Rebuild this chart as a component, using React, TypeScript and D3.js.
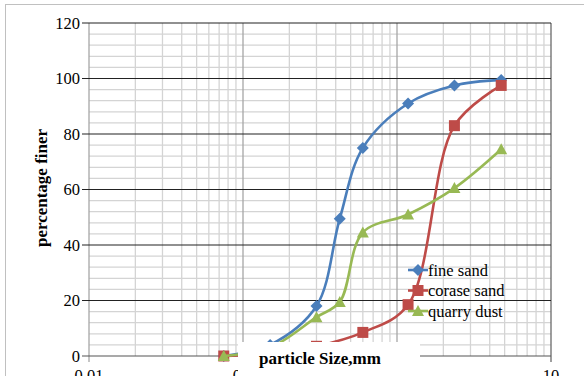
import * as d3 from "d3";
import { useRef, useEffect } from "react";

// sieve sizes (mm) and percentage finer for each material
const sieveSizes = [0.075, 0.15, 0.3, 0.425, 0.6, 1.18, 2.36, 4.75];
const fineSand = [0, 4, 18, 49.5, 75, 91, 97.5, 99.5];
const coarseSand = [0, 1, 3.5, null, 8.5, 18.5, 83, 97.5];
const quarryDust = [0, 3, 14, 19.5, 44.5, 51, 60.5, 74.5];

const seriesNames = ["fine sand", "corase sand", "quarry dust"];
const seriesColors = ["#4a7ebb", "#be4b48", "#98b954"];
const seriesShapes = ["diamond", "square", "triangle"];

const yTicks = [0, 20, 40, 60, 80, 100, 120];
const xTicks = [0.01, 0.1, 1, 10];
const xTickLabels = ["0.01", "0.1", "1", "10"];

function markerPath(shape: string) {
  if (shape === "diamond") return "M0,-6L6,0L0,6L-6,0Z";
  if (shape === "square") return "M-5.5,-5.5H5.5V5.5H-5.5Z";
  return "M0,-6L6,5H-6Z";
}

export default function App() {
  const ref = useRef<SVGSVGElement>(null);

  useEffect(() => {
    const width = 584;
    const height = 376;
    const svg = d3.select(ref.current);
    svg.selectAll("*").remove();
    svg.attr("width", width).attr("height", height);

    const x = d3.scaleLog().domain([0.01, 10]).range([89, 551]);
    const y = d3.scaleLinear().domain([0, 120]).range([356, 23]);
    const font = "Liberation Serif";

    svg.append("rect").attr("width", width).attr("height", height).attr("fill", "#fff");
    svg.append("rect")
      .attr("x", 5.5).attr("y", 4.5).attr("width", 700).attr("height", 500)
      .attr("fill", "none").attr("stroke", "#c0c0c0");

    const grid = svg.append("g");
    // minor vertical lines
    for (let dec = 0.01; dec < 10; dec *= 10) {
      for (let k = 2; k <= 9; k++) {
        const xv = x(dec * k);
        grid.append("line")
          .attr("x1", xv).attr("x2", xv).attr("y1", y(120)).attr("y2", y(0))
          .attr("stroke", "#d4d4d4").attr("stroke-width", 1.3);
      }
    }
    // minor horizontal lines
    d3.range(0, 121, 4).filter(v => v % 20 !== 0).forEach(v => {
      grid.append("line")
        .attr("x1", x(0.01)).attr("x2", x(10)).attr("y1", y(v)).attr("y2", y(v))
        .attr("stroke", "#d4d4d4").attr("stroke-width", 1.3);
    });
    // major vertical lines
    xTicks.forEach(t => {
      grid.append("line")
        .attr("x1", x(t)).attr("x2", x(t)).attr("y1", y(120)).attr("y2", y(0) + (t === 10 || t === 0.01 ? 6 : 0))
        .attr("stroke", t === 10 ? "#6a6a6a" : "#a6a6a6").attr("stroke-width", 1.3);
    });
    // major horizontal lines
    yTicks.forEach(t => {
      grid.append("line")
        .attr("x1", x(0.01) - 7).attr("x2", x(10)).attr("y1", y(t)).attr("y2", y(t))
        .attr("stroke", t === 0 ? "#555" : "#222").attr("stroke-width", 1.2);
    });

    svg.append("g").selectAll("text")
      .data(yTicks).enter().append("text")
      .attr("x", 80).attr("y", d => y(d)).attr("dy", "0.35em")
      .attr("text-anchor", "end").attr("font-family", font).attr("font-size", 16.5)
      .text(d => d);

    svg.append("g").selectAll("text")
      .data(xTicks).enter().append("text")
      .attr("x", d => x(d)).attr("y", 381)
      .attr("text-anchor", "middle").attr("font-family", font).attr("font-size", 16.5)
      .text((d, i) => xTickLabels[i]);

    const allSeries = [fineSand, coarseSand, quarryDust];
    const line = d3.line<[number, number]>()
      .x(d => x(d[0])).y(d => y(d[1]))
      .curve(d3.curveCatmullRom.alpha(0.5));

    allSeries.forEach((vals, i) => {
      const pts = sieveSizes
        .map((s, j) => [s, vals[j]] as [number, number | null])
        .filter(p => p[1] !== null) as [number, number][];
      svg.append("path")
        .attr("d", line(pts))
        .attr("fill", "none").attr("stroke", seriesColors[i]).attr("stroke-width", 2.6);
      svg.append("g").selectAll("path")
        .data(pts).enter().append("path")
        .attr("d", markerPath(seriesShapes[i]))
        .attr("transform", d => `translate(${x(d[0])},${y(d[1])})`)
        .attr("fill", seriesColors[i]);
    });

    // legend
    const legend = svg.append("g");
    seriesNames.forEach((name, i) => {
      const ly = 270 + i * 20.5;
      legend.append("line")
        .attr("x1", 408).attr("x2", 428).attr("y1", ly).attr("y2", ly)
        .attr("stroke", seriesColors[i]).attr("stroke-width", 2.6);
      legend.append("path")
        .attr("d", markerPath(seriesShapes[i]))
        .attr("transform", `translate(418,${ly})`)
        .attr("fill", seriesColors[i]);
      legend.append("text")
        .attr("x", 428).attr("y", ly).attr("dy", "0.35em")
        .attr("font-family", font).attr("font-size", 16.5)
        .text(name);
    });

    // x axis title box
    svg.append("rect")
      .attr("x", 238).attr("y", 342).attr("width", 182).attr("height", 40)
      .attr("fill", "#fff");
    svg.append("text")
      .attr("x", 320).attr("y", 364)
      .attr("text-anchor", "middle").attr("font-family", font)
      .attr("font-size", 17).attr("font-weight", "bold")
      .text("particle Size,mm");

    svg.append("text")
      .attr("transform", `translate(47,188) rotate(-90)`)
      .attr("text-anchor", "middle").attr("font-family", font)
      .attr("font-size", 17).attr("font-weight", "bold")
      .text("percentage finer");
  }, []);

  return <svg ref={ref} style={{ position: "absolute", left: 0, top: 0 }}></svg>;
}
